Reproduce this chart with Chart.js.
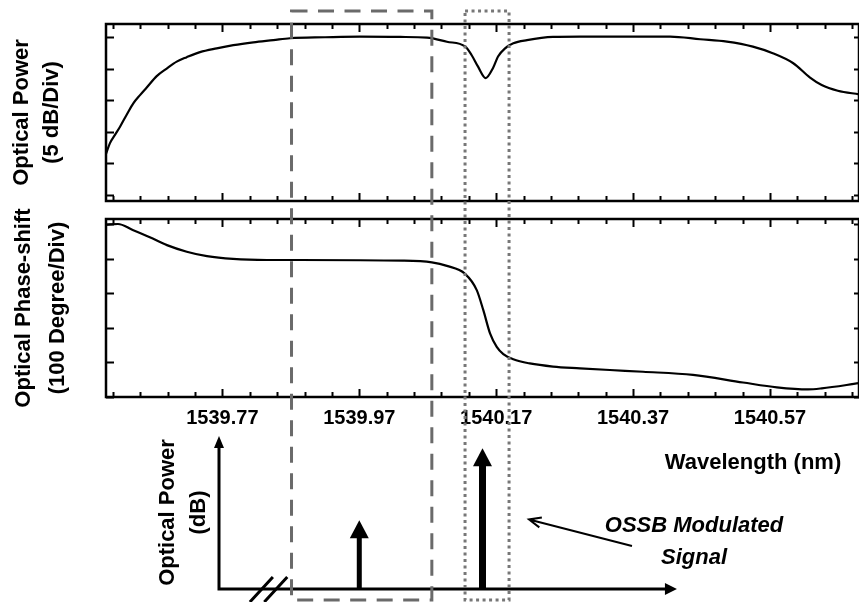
<!DOCTYPE html>
<html>
<head>
<meta charset="utf-8">
<title>Filter response and OSSB signal</title>
<script src="https://cdn.jsdelivr.net/npm/chart.js@4.4.0/dist/chart.umd.min.js"></script>
<style>
  body { margin: 0; background: #fff; }
  #wrap { position: relative; width: 859px; height: 602px; overflow: hidden; }
  #wrap canvas { position: absolute; left: 0; }
  #power { top: 0; }
  #phase { top: 205px; }
  #spectrum { top: 0; }
</style>
</head>
<body>
<div id="wrap">
  <canvas id="power" width="859" height="215"></canvas>
  <canvas id="phase" width="859" height="250"></canvas>
  <canvas id="spectrum" width="859" height="602"></canvas>
</div>
<script>
'use strict';
const FONT = '"Liberation Sans", Arial, sans-serif';

// wavelength axis (nm)
const wlMin = 1539.60;
const wlMax = 1540.70;
const wlTicks = [1539.77, 1539.97, 1540.17, 1540.37, 1540.57];

// filter power response (dB)
const powerWl = [1539.600, 1539.6058, 1539.6131, 1539.6205, 1539.6302, 1539.6399, 1539.6497, 1539.6595,
  1539.6741, 1539.6887, 1539.7033, 1539.7179, 1539.7373, 1539.7617, 1539.786, 1539.8152, 1539.8444,
  1539.8688, 1539.920, 1539.971, 1540.030, 1540.069, 1540.098, 1540.1245, 1540.134, 1540.1435,
  1540.1547, 1540.1654, 1540.1727, 1540.183, 1540.195, 1540.215, 1540.253, 1540.292, 1540.360, 1540.424,
  1540.468, 1540.507, 1540.545, 1540.574, 1540.604, 1540.628, 1540.6455, 1540.669, 1540.700];
const powerDb = [-18.5, -16.8, -15.5, -14.2, -12.3, -10.5, -9.2, -8.0,
  -6.2, -5.0, -3.9, -3.2, -2.4, -1.8, -1.3, -0.85, -0.5,
  -0.2, -0.05, 0.05, 0.0, -0.1, -0.75, -1.5, -2.85, -4.7,
  -6.5, -4.9, -3.1, -1.8, -1.0, -0.5, 0.0, 0.05, 0.05, 0.05,
  -0.36, -0.74, -1.53, -2.58, -4.16, -6.38, -7.6, -8.5, -9.07];
const powerTicks = [-25, -20, -15, -10, -5, 0];

// filter phase response (degree)
const phaseWl = [1539.600, 1539.6175, 1539.639, 1539.664, 1539.689, 1539.718, 1539.7475, 1539.7855,
  1539.835, 1539.883, 1540.034, 1540.076, 1540.098, 1540.1245, 1540.1416, 1540.1512, 1540.161,
  1540.1708, 1540.1804, 1540.195, 1540.219, 1540.253, 1540.2925, 1540.336, 1540.3845, 1540.4575,
  1540.5306, 1540.580, 1540.6256, 1540.6455, 1540.700];
const phaseDeg = [498, 500, 483, 462, 439, 420, 407, 399,
  396, 396, 394, 389, 379, 356, 309, 251, 184,
  145, 124, 109, 97, 88, 83, 78, 73, 64,
  42, 28, 22, 25, 40];
const phaseTicks = [0, 100, 200, 300, 400, 500];

// carrier and sideband of the OSSB signal (arbitrary dB scale)
const lineWl = [1539.97, 1540.15];
const lineLevel = [4.5, 9.2];

// marked wavelength bands
const dashedBand = [1539.871, 1540.076];
const dottedBand = [1540.1245, 1540.1888];

//helper functions
function toPoints(xs, ys) {
  return xs.map((x, i) => ({ x: x, y: ys[i] }));
}

function arrowHead(ctx, x, y, angle, len, half) {
  ctx.beginPath();
  ctx.moveTo(x, y);
  ctx.lineTo(x - len * Math.cos(angle) + half * Math.sin(angle), y - len * Math.sin(angle) - half * Math.cos(angle));
  ctx.lineTo(x - len * Math.cos(angle) - half * Math.sin(angle), y - len * Math.sin(angle) + half * Math.cos(angle));
  ctx.closePath();
  ctx.fill();
}

// box around the plot with inward ticks on all sides
const frameTicks = {
  id: 'frameTicks',
  afterDatasetsDraw(chart, args, opts) {
    const { ctx, chartArea: a, scales } = chart;
    ctx.save();
    ctx.strokeStyle = '#000';
    ctx.lineWidth = 2;
    ctx.beginPath();
    for (let k = -4; ; k++) {
      const v = wlTicks[0] + k * 0.04;
      if (v > wlMax + 1e-6) break;
      const px = Math.round(scales.x.getPixelForValue(v)) + 0.5;
      const len = (k % 5 === 0) ? 8 : 5;
      ctx.moveTo(px, a.top);
      ctx.lineTo(px, a.top + len);
      ctx.moveTo(px, a.bottom);
      ctx.lineTo(px, a.bottom - len);
    }
    opts.yTicks.forEach(v => {
      const py = Math.round(scales.y.getPixelForValue(v)) + 0.5;
      ctx.moveTo(a.left, py);
      ctx.lineTo(a.left + 8, py);
      ctx.moveTo(a.right, py);
      ctx.lineTo(a.right - 5, py);
    });
    ctx.stroke();
    ctx.lineWidth = 2.5;
    ctx.strokeRect(a.left, a.top, a.width, a.height);
    ctx.restore();
  }
};

function yTitle(lines, lh) {
  return {
    display: true,
    text: lines,
    color: '#000',
    font: { family: FONT, size: 22, weight: 'bold', lineHeight: lh },
    padding: { top: 7, bottom: 0 }
  };
}

const curveStyle = {
  borderColor: '#000',
  borderWidth: 2.2,
  pointRadius: 0,
  cubicInterpolationMode: 'monotone',
  fill: false
};

//////////////////// power panel ////////////////////
const powerChart = new Chart(document.getElementById('power'), {
  type: 'line',
  data: { datasets: [Object.assign({ data: toPoints(powerWl, powerDb) }, curveStyle)] },
  options: {
    responsive: false,
    animation: false,
    events: [],
    layout: { padding: { top: 24, bottom: 14, left: 0, right: 0 }, autoPadding: false },
    scales: {
      x: { type: 'linear', min: wlMin, max: wlMax, display: false },
      y: {
        min: -25.95, max: 2.05,
        ticks: { display: false },
        grid: { display: false, drawTicks: false },
        border: { display: false },
        title: yTitle(['Optical Power', '(5 dB/Div)'], 1.36),
        afterFit(scale) { scale.width = 106; }
      }
    },
    plugins: { legend: { display: false }, tooltip: { enabled: false }, frameTicks: { yTicks: powerTicks } }
  },
  plugins: [frameTicks]
});

//////////////////// phase panel ////////////////////
const phaseChart = new Chart(document.getElementById('phase'), {
  type: 'line',
  data: { datasets: [Object.assign({ data: toPoints(phaseWl, phaseDeg) }, curveStyle)] },
  options: {
    responsive: false,
    animation: false,
    events: [],
    layout: { padding: { top: 14, bottom: 0, left: 0, right: 0 }, autoPadding: false },
    scales: {
      x: {
        type: 'linear', min: wlMin, max: wlMax,
        afterBuildTicks(scale) { scale.ticks = wlTicks.map(v => ({ value: v })); },
        afterFit(scale) { scale.height = 58; },
        ticks: {
          autoSkip: false, maxRotation: 0, padding: 9, color: '#000',
          font: { family: FONT, size: 20, weight: 'bold' },
          callback: v => v.toFixed(2)
        },
        grid: { display: false, drawTicks: false },
        border: { display: false }
      },
      y: {
        min: 0, max: 514.5,
        ticks: { display: false },
        grid: { display: false, drawTicks: false },
        border: { display: false },
        title: yTitle(['Optical Phase-shift', '(100 Degree/Div)'], 1.55),
        afterFit(scale) { scale.width = 106; }
      }
    },
    plugins: { legend: { display: false }, tooltip: { enabled: false }, frameTicks: { yTicks: phaseTicks } }
  },
  plugins: [frameTicks]
});

//////////////////// spectrum sketch + bands ////////////////////
const sketch = {
  id: 'sketch',
  afterDraw(chart) {
    const { ctx, chartArea: a, scales } = chart;
    const base = scales.y.getPixelForValue(0);
    ctx.save();
    ctx.fillStyle = '#000';
    ctx.strokeStyle = '#000';

    // sketch axes
    const xEnd = scales.x.getPixelForValue(1540.434);
    ctx.lineWidth = 3;
    ctx.beginPath();
    ctx.moveTo(a.left, a.top + 10);
    ctx.lineTo(a.left, base);
    ctx.lineTo(xEnd - 10, base);
    ctx.stroke();
    arrowHead(ctx, a.left, a.top, -Math.PI / 2, 12, 5);
    arrowHead(ctx, xEnd, base, 0, 12, 6);

    // axis break
    ctx.beginPath();
    [1539.827, 1539.848].forEach(w => {
      const bx = scales.x.getPixelForValue(w);
      ctx.moveTo(bx - 11.5, base + 13);
      ctx.lineTo(bx + 11.5, base - 12);
    });
    ctx.stroke();

    // spectral lines
    const widths = [5, 7];
    chart.getDatasetMeta(0).data.forEach((pt, i) => {
      ctx.fillRect(pt.x - widths[i] / 2, pt.y + 16, widths[i], base - pt.y - 16);
      arrowHead(ctx, pt.x, pt.y, -Math.PI / 2, 18, 9.5);
    });

    // note arrow
    ctx.lineWidth = 2;
    ctx.beginPath();
    ctx.moveTo(632, 546);
    ctx.lineTo(529, 519.5);
    const ang = Math.atan2(519.5 - 546, 529 - 632);
    ctx.moveTo(529 - 13 * Math.cos(ang - 0.4), 519.5 - 13 * Math.sin(ang - 0.4));
    ctx.lineTo(529, 519.5);
    ctx.lineTo(529 - 13 * Math.cos(ang + 0.4), 519.5 - 13 * Math.sin(ang + 0.4));
    ctx.stroke();

    ctx.textAlign = 'center';
    ctx.textBaseline = 'alphabetic';
    ctx.font = 'italic bold 22px ' + FONT;
    ctx.fillText('OSSB Modulated', 694, 532);
    ctx.fillText('Signal', 694, 564);
    ctx.font = 'bold 22px ' + FONT;
    ctx.fillText('Wavelength (nm)', 753, 469);

    // bands across both panels
    const bx1 = scales.x.getPixelForValue(dashedBand[0]);
    const bx2 = scales.x.getPixelForValue(dashedBand[1]);
    ctx.lineWidth = 3;
    ctx.strokeStyle = '#6a6a6a';
    ctx.setLineDash([16, 10.5]);
    ctx.strokeRect(bx1, 11, bx2 - bx1, 589);
    const dx1 = scales.x.getPixelForValue(dottedBand[0]);
    const dx2 = scales.x.getPixelForValue(dottedBand[1]);
    ctx.strokeStyle = '#777';
    ctx.setLineDash([3, 3.5]);
    ctx.strokeRect(dx1, 11, dx2 - dx1, 589);
    ctx.restore();
  }
};

const spectrumChart = new Chart(document.getElementById('spectrum'), {
  type: 'scatter',
  data: { datasets: [{ data: toPoints(lineWl, lineLevel), pointRadius: 0, showLine: false }] },
  options: {
    responsive: false,
    animation: false,
    events: [],
    layout: { padding: { top: 436, bottom: 13, left: 145, right: 0 }, autoPadding: false },
    scales: {
      x: { type: 'linear', min: powerChart.scales.x.getValueForPixel(219), max: wlMax, display: false },
      y: {
        min: 0, max: 10,
        ticks: { display: false },
        grid: { display: false, drawTicks: false },
        border: { display: false },
        title: yTitle(['Optical Power', '(dB)'], 1.42),
        afterFit(scale) { scale.width = 74; }
      }
    },
    plugins: { legend: { display: false }, tooltip: { enabled: false } }
  },
  plugins: [sketch]
});
</script>
</body>
</html>
